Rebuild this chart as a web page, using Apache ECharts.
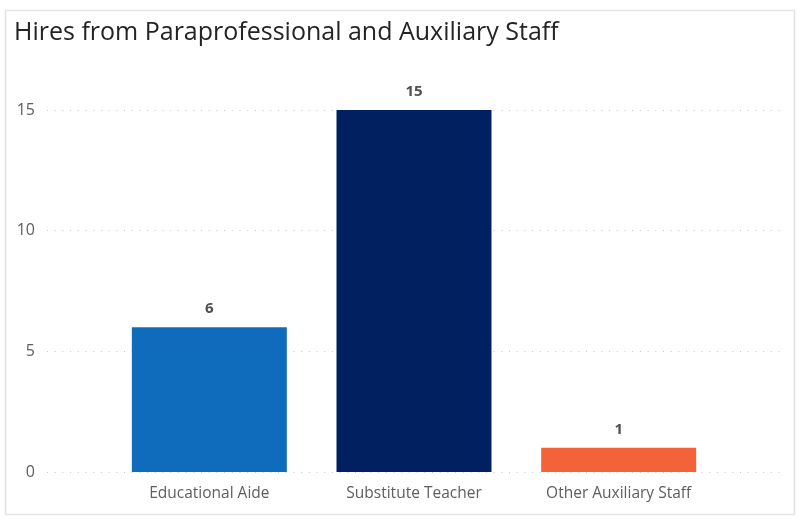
<!DOCTYPE html>
<html><head><meta charset="utf-8">
<script src="https://cdn.jsdelivr.net/npm/echarts@6/dist/echarts.min.js"></script>
<style>html,body{margin:0;padding:0;background:#fff}#c{width:800px;height:521px}</style>
</head><body><div id="c"></div>
<script>
const titleText = "Hires from Paraprofessional and Auxiliary Staff";
const categories = ["Educational Aide", "Substitute Teacher", "Other Auxiliary Staff"];
const values = [6, 15, 1];
const barColors = ["#0F6CBD", "#002060", "#F4623A"];
const yTicks = [0, 5, 10, 15];

const chart = echarts.init(document.getElementById('c'), null, {renderer: 'canvas'});
const font = "'Open Sans', 'Segoe UI', sans-serif";
const gridTop = 110, gridBottom = 49;
chart.setOption({
  animation: false,
  backgroundColor: '#fff',
  graphic: [{
    type: 'rect', shape: {x: 5.5, y: 10.5, width: 789, height: 504},
    style: {fill: 'none', stroke: '#e3e3e3', lineWidth: 1.5}, z: -1
  }],
  title: {
    text: titleText, left: 9, top: 15,
    textStyle: {fontFamily: font, fontSize: 25, fontWeight: 'normal', color: '#252423'}
  },
  grid: [
    {left: 47, right: 15, top: gridTop, bottom: gridBottom},
    {left: 107, right: 79, top: gridTop, bottom: gridBottom}
  ],
  xAxis: [
    {gridIndex: 0, type: 'category', data: categories, show: false},
    {gridIndex: 1, type: 'category', data: categories,
     axisLine: {show: false}, axisTick: {show: false},
     axisLabel: {margin: 14, fontFamily: font, fontSize: 15.5, color: '#605E5C'}}
  ],
  yAxis: [
    {gridIndex: 0, type: 'value', min: yTicks[0], max: yTicks[yTicks.length - 1], interval: 5,
     axisLine: {show: false}, axisTick: {show: false},
     axisLabel: {margin: 12, fontFamily: font, fontSize: 16, color: '#605E5C'},
     splitLine: {show: true, lineStyle: {color: '#c8c8c8', width: 1, type: [1, 6.7]}}},
    {gridIndex: 1, type: 'value', min: yTicks[0], max: yTicks[yTicks.length - 1], interval: 5,
     show: false, splitLine: {show: false}}
  ],
  series: [{
    type: 'bar', xAxisIndex: 1, yAxisIndex: 1, barWidth: 155,
    data: values.map((v, i) => ({value: v, itemStyle: {color: barColors[i]}})),
    label: {show: true, position: 'top', distance: 11,
      fontFamily: font, fontSize: 15, fontWeight: 'bold', color: '#505050'}
  }]
});
</script></body></html>
